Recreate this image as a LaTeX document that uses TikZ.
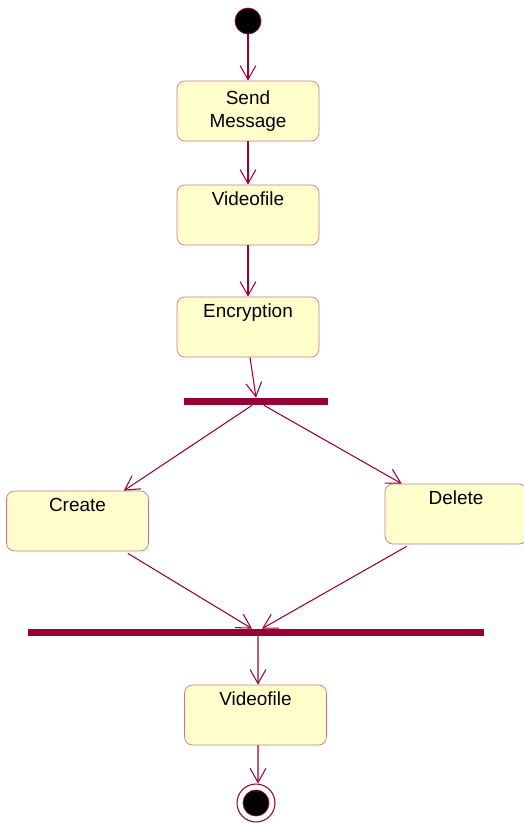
\documentclass[tikz,border=0pt]{standalone}
\usepackage{fontspec}
\setmainfont{Liberation Sans}
\usepackage{tikz}
\usetikzlibrary{arrows.meta,calc,positioning}
\definecolor{umlred}{RGB}{153,0,51}
\definecolor{umlfill}{RGB}{255,255,204}
\definecolor{umledge}{RGB}{204,119,136}
\tikzset{flow/.style={draw=umlred,line width=0.6pt,-{Straight Barb[length=8pt,width=9pt]}}}

\begin{document}
\begin{tikzpicture}[x=0.02cm,y=-0.02cm,
                    act box/.style={rectangle,rounded corners=0.16cm,draw=umledge,fill=umlfill,
                      minimum width=2.84cm,minimum height=1.2cm,inner sep=0pt,
                      font=\fontsize{10.8}{13}\selectfont,align=center},
                    act node/.style={act box,text height=0.4cm,text depth=0.8cm},
                    bar node/.style={rectangle,fill=umlred,inner sep=0pt,minimum height=0.14cm}]

\useasboundingbox (0,0) rectangle (524,823);

%Start and first actions

  \node[circle,fill=black,draw=umlred,minimum size=0.52cm,inner sep=0pt] (start) at (248,21) {};
  \node[act box] (send) at (248,111) {Send\\Message};
  \node[act node] (video1) at (248,215) {Videofile};
  \node[act node] (encrypt) at (248,327) {Encryption};

  \draw[flow] (start) -- (send);
  \draw[flow] (send) -- (video1);
  \draw[flow] (video1) -- (encrypt);

%Fork into create and delete

  \node[bar node,minimum width=2.88cm] (fork) at (256,401.5) {};
  \draw[flow] ($(encrypt.south)+(2,0)$) -- (fork.north);

  \node[act node] (create) at (77.5,521) {Create};
  \node[act node] (delete) at (456,514) {Delete};

  \draw[flow] ($(fork.south)+(-4,0)$) -- ($(create.north east)+(-25,0)$);
  \draw[flow] ($(fork.south)+(8,0)$) -- ($(delete.north west)+(17,0)$);

%Join and end

  \node[bar node,minimum width=9.12cm] (join) at (256,632.5) {};
  \draw[flow] ($(create.south east)+(-21,2)$) -- ($(join.north)+(-4,0)$);
  \draw[flow] ($(delete.south west)+(22,2)$) -- ($(join.north)+(6,0)$);

  \node[act node] (video2) at (255.5,715) {Videofile};
  \draw[flow] ($(join.south)+(2,0)$) -- ($(video2.north)+(2.5,0)$);

  \node[circle,draw=umlred,fill=white,line width=0.6pt,minimum size=0.76cm,inner sep=0pt] (final) at (256,803) {};
  \fill[black,draw=umlred] (final.center) circle (13);
  \draw[flow] ($(video2.south)+(2.5,0)$) -- ($(final.north)+(2,0)$);

\end{tikzpicture}
\end{document}
